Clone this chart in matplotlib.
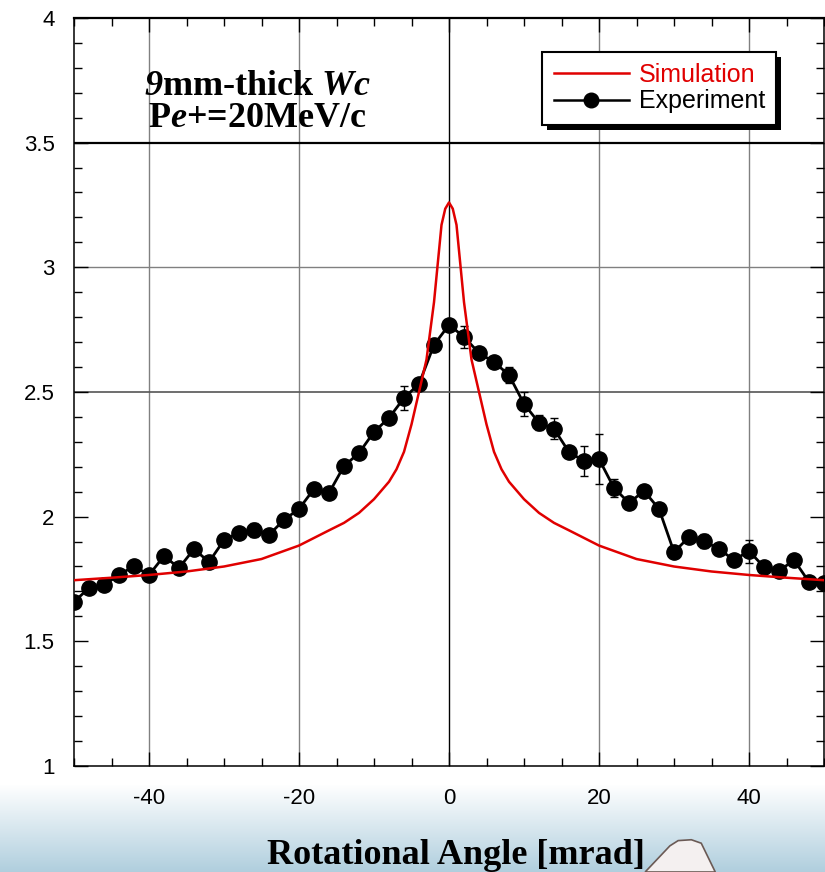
import matplotlib
matplotlib.use('Agg')
import matplotlib.pyplot as plt
import numpy as np
from matplotlib.lines import Line2D
from matplotlib.patches import Polygon, Rectangle
from matplotlib.ticker import MultipleLocator
from matplotlib.transforms import IdentityTransform

# experiment: rotational angle [mrad] vs. counts (arb.)
exp_x = list(range(-50, 51, 2))
exp_y = [1.658, 1.714, 1.726, 1.766, 1.802, 1.766, 1.842, 1.794, 1.870, 1.818,
         1.906, 1.935, 1.947, 1.927, 1.987, 2.031, 2.111, 2.095, 2.203, 2.255,
         2.340, 2.396, 2.476, 2.532, 2.689, 2.769, 2.721, 2.656, 2.620, 2.568,
         2.452, 2.376, 2.352, 2.259, 2.223, 2.231, 2.115, 2.055, 2.103, 2.031,
         1.858, 1.918, 1.902, 1.870, 1.826, 1.862, 1.798, 1.782, 1.826, 1.738,
         1.734]
exp_err = [0.015, 0.015, 0.015, 0.015, 0.015, 0.015, 0.015, 0.015, 0.015, 0.015,
           0.015, 0.015, 0.027, 0.015, 0.015, 0.015, 0.015, 0.015, 0.015, 0.015,
           0.015, 0.015, 0.047, 0.020, 0.015, 0.015, 0.044, 0.020, 0.015, 0.032,
           0.049, 0.030, 0.042, 0.015, 0.059, 0.100, 0.037, 0.025, 0.023, 0.015,
           0.015, 0.015, 0.027, 0.015, 0.020, 0.046, 0.015, 0.015, 0.015, 0.015,
           0.015]

# simulation (one half, mirrored)
sim_half_x = [0, 0.5, 1, 2, 3, 4, 5, 6, 7, 8, 10, 12, 14, 16, 20, 25, 30, 35, 40, 45, 50]
sim_half_y = [3.26, 3.235, 3.17, 2.86, 2.63, 2.50, 2.37, 2.26, 2.19, 2.14, 2.07,
              2.015, 1.975, 1.945, 1.884, 1.830, 1.800, 1.780, 1.766, 1.755, 1.745]
sim_x = [-v for v in sim_half_x[:0:-1]] + sim_half_x
sim_y = sim_half_y[:0:-1] + sim_half_y

plt.rcParams['font.family'] = ['Liberation Sans', 'DejaVu Sans']
plt.rcParams['axes.unicode_minus'] = False
plt.rcParams['mathtext.fontset'] = 'custom'
plt.rcParams['mathtext.rm'] = 'Liberation Serif:bold:italic'
plt.rcParams['mathtext.it'] = 'Liberation Serif:bold:italic'
plt.rcParams['mathtext.bf'] = 'Liberation Serif:bold'

fig = plt.figure(figsize=(8.25, 8.72), dpi=100)

# slide background gradient at the bottom
bg = fig.add_axes([0, 0, 1, 0.10], zorder=0)
top_c = np.array([1.0, 1.0, 1.0])
bot_c = np.array([0.69, 0.81, 0.87])
t = np.linspace(0, 1, 200)[:, None]
grad = (1 - t) * top_c + t * bot_c
bg.imshow(grad[:, None, :].repeat(2, axis=1), aspect='auto', extent=[0, 1, 0, 1])
bg.set_xlim(0, 1)
bg.set_ylim(0, 1)
bg.axis('off')
bump = Polygon([(0.782, 0.0), (0.812, 0.03), (0.822, 0.036), (0.838, 0.037),
                (0.85, 0.033), (0.867, 0.0)],
               closed=True, transform=fig.transFigure, facecolor='#f4f0f0',
               edgecolor='#6b5a55', linewidth=1.2, zorder=1)
fig.patches.append(bump)

ax = fig.add_axes([0.0897, 0.1216, 0.9091, 0.8578], zorder=2)

for gx in [-40, -20, 20, 40]:
    ax.axvline(gx, color='#808080', lw=1.0, zorder=1)
ax.axvline(0, color='black', lw=1.0, zorder=1)
ax.axhline(3.0, color='#808080', lw=1.0, zorder=1)
ax.axhline(2.5, color='#555555', lw=1.2, zorder=1)
ax.axhline(3.5, color='black', lw=1.6, zorder=1)

ax.errorbar(exp_x, exp_y, yerr=exp_err, fmt='-o', color='black', ms=11,
            lw=2.0, elinewidth=1.0, capsize=2.8, capthick=1.0, zorder=3)
ax.plot(sim_x, sim_y, color='#e00000', lw=1.8, zorder=4)

ax.set_xlim(-50, 50)
ax.set_ylim(1, 4)
ax.set_xticks([-40, -20, 0, 20, 40])
ax.set_yticks([1, 1.5, 2, 2.5, 3, 3.5, 4])
ax.set_yticklabels(['1', '1.5', '2', '2.5', '3', '3.5', '4'])
ax.xaxis.set_minor_locator(MultipleLocator(5))
ax.yaxis.set_minor_locator(MultipleLocator(0.1))
ax.tick_params(which='both', direction='in', top=True, right=True, labelsize=16)
ax.tick_params(which='major', length=10, width=1.0)
ax.tick_params(which='minor', length=6, width=1.0)
ax.tick_params(axis='x', pad=16)
ax.tick_params(axis='y', pad=14)
for side in ['left', 'bottom', 'right']:
    ax.spines[side].set_linewidth(1.1)
ax.spines['top'].set_linewidth(1.6)

ax.text(0.245, 0.909, '$9$mm-thick $Wc$', transform=ax.transAxes,
        ha='center', va='center', fontsize=26, family='Liberation Serif',
        weight='bold', zorder=5)
ax.text(0.245, 0.865, 'P$e$+=20MeV/c', transform=ax.transAxes,
        ha='center', va='center', fontsize=26, family='Liberation Serif',
        weight='bold', zorder=5)

handles = [Line2D([], [], color='#e00000', lw=1.8),
           Line2D([], [], color='black', lw=1.8, marker='o', ms=10.5)]
leg = ax.legend(handles, ['Simulation', 'Experiment'], loc='upper right',
                bbox_to_anchor=(0.936, 0.955), fontsize=18, frameon=True,
                fancybox=False, handlelength=3.0, handletextpad=0.4,
                borderpad=0.45, labelspacing=0.1, borderaxespad=0)
leg.get_frame().set_edgecolor('black')
leg.get_frame().set_linewidth(1.5)
leg.get_frame().set_alpha(None)
leg.get_frame().set_facecolor('white')
leg.set_zorder(7)
leg.get_texts()[0].set_color('#e00000')

fig.canvas.draw()
bb = leg.get_frame().get_window_extent(fig.canvas.get_renderer())
shadow = Rectangle((bb.x0 + 5, bb.y0 - 5), bb.width, bb.height,
                   transform=IdentityTransform(), facecolor='black',
                   edgecolor='none', zorder=6)
ax.add_artist(shadow)

fig.text(0.553, 0.019, 'Rotational Angle [mrad]', ha='center', va='center',
         fontsize=26, family='Liberation Serif', weight='bold', zorder=5)

fig.savefig('out.png', dpi=100)
